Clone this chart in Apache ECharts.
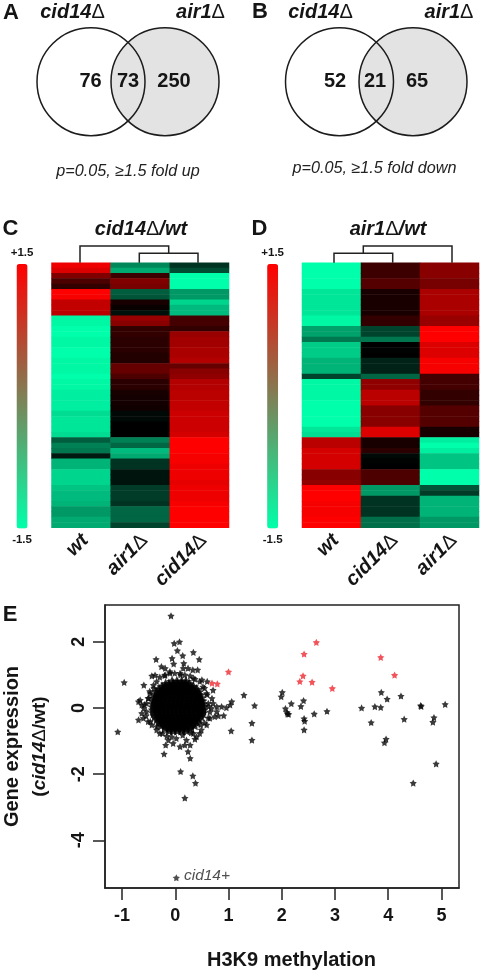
<!DOCTYPE html>
<html><head><meta charset="utf-8">
<script src="https://cdn.jsdelivr.net/npm/echarts@6/dist/echarts.min.js"></script>
<style>html,body{margin:0;padding:0;background:#fff}#c{width:481px;height:970px}</style>
</head><body><div id="c"></div>
<script>
// ---------- data ----------
const vennUp = [76, 73, 250];
const vennDown = [52, 21, 65];
const captionUp = 'p=0.05, ≥1.5 fold up';
const captionDown = 'p=0.05, ≥1.5 fold down';

const rowIds = ['01','02','03','04','05','06','07','08','09','10','11','12','13','14','15','16','17','18','19','20','21','22','23','24','25','26','27','28','29','30','31','32','33','34','35','36','37','38','39','40','41','42','43','44','45','46','47','48','49','50'];
const colsC = ['wt', 'air1', 'cid14'];
const colsD = ['wt', 'cid14', 'air1'];

const cWt = [1.4,1.3,.75,.45,.3,1.5,1.45,1.15,1.15,1.1,-1.45,-1.45,-1.5,-1.5,-1.45,-1.45,-1.5,-1.5,-1.45,-1.45,-1.45,-1.5,-1.45,-1.45,-1.4,-1.4,-1.4,-1.4,-1.3,-1.35,-1.35,-1.35,-1.3,-.55,-.75,-.7,-.15,-1.05,-1.05,-1.25,-1.25,-1.25,-1.15,-1.1,-1.1,-1.05,-.9,-.9,-1,-1];
const cAir = [-.8,-1,.35,.75,.7,-.55,-.5,.15,.05,-.1,.9,.8,.3,.3,.25,.25,.25,.2,.2,.6,.6,.45,.25,.25,.15,.12,.12,.1,-.05,-.05,0,0,0,-.75,-.6,-1.1,-1,-.3,-.3,-.12,-.12,-.12,-.35,-.35,-.35,-.3,-.6,-.6,-.6,-.4];
const cCid = [-.3,-.45,-1.5,-1.5,-1.5,-.9,-.9,-1.25,-1.1,-1.1,.4,.4,.3,.9,.95,.95,1,1,1.05,.6,.8,.85,1.05,1.05,1.1,1.1,1.15,1.15,1.2,1.2,1.2,1.2,1.25,1.5,1.5,1.5,1.45,1.45,1.4,1.4,1.4,1.35,1.4,1.4,1.4,1.45,1.5,1.5,1.5,1.5];

const dWt = [-1.5,-1.5,-1.5,-1.5,-1.5,-1.35,-1.35,-1.35,-1.35,-1.35,-1.45,-1.45,-.95,-.95,-.7,-1.2,-1.2,-1.2,-1.05,-1.05,-1.05,-.4,-1.45,-1.45,-1.45,-1.45,-1.5,-1.5,-1.5,-1.5,-1.5,-1.35,-1.3,1.1,1.1,1.25,1.25,1.25,1.25,.8,.8,.85,1.5,1.5,1.5,1.45,1.45,1.45,1.5,1.5];
const dCid = [.35,.35,.35,.5,.5,.15,.15,.15,.15,.15,.3,.3,-.4,-.4,-.7,0,-.02,0,-.2,-.2,-.2,-.6,.85,.85,1.1,1.1,1.1,.8,.8,.8,.8,1.3,1.3,.15,.15,.25,-.05,-.02,0,.45,.45,.45,-.9,-.9,-.3,-.3,-.3,-.3,-.65,-.65];
const dAir = [.8,.8,.8,.7,.7,1,1,1,1,1,.9,.9,1.5,1.5,1.5,1.3,1.3,1.3,1.45,1.45,1.45,.4,.4,.4,.3,.3,.3,.5,.5,.5,.5,.15,.15,-1.4,-1.5,-1.4,-1.15,-1.15,-1.15,-1.5,-1.5,-1.5,-.5,-.35,-1.05,-1.05,-1.05,-1.05,-.9,-.9];

// dense cloud near the origin, read row by row: [y, x values]
const cloudRows = [
 [.8,[-.06,.03,.12,.2]],
 [.72,[-.18,-.12,-.04,.04,.12,.2,.26]],
 [.64,[-.25,-.19,-.11,-.03,.05,.13,.21,.29,.34]],
 [.56,[-.3,-.23,-.15,-.07,.01,.09,.17,.25,.33,.4]],
 [.48,[-.34,-.27,-.19,-.11,-.03,.05,.13,.21,.29,.37,.43]],
 [.39,[-.37,-.3,-.22,-.14,-.06,.02,.1,.18,.26,.34,.42,.46]],
 [.3,[-.39,-.32,-.24,-.16,-.08,0,.08,.16,.24,.32,.4,.48]],
 [.21,[-.4,-.33,-.25,-.17,-.09,-.01,.07,.15,.23,.31,.39,.47,.5]],
 [.12,[-.41,-.34,-.26,-.18,-.1,-.02,.06,.14,.22,.3,.38,.46,.51]],
 [.03,[-.41,-.34,-.26,-.18,-.1,-.02,.06,.14,.22,.3,.38,.46,.52]],
 [-.06,[-.41,-.34,-.26,-.18,-.1,-.02,.06,.14,.22,.3,.38,.46,.52]],
 [-.15,[-.4,-.33,-.25,-.17,-.09,-.01,.07,.15,.23,.31,.39,.47,.51]],
 [-.24,[-.38,-.31,-.23,-.15,-.07,.01,.09,.17,.25,.33,.41,.48]],
 [-.33,[-.34,-.27,-.19,-.11,-.03,.05,.13,.21,.29,.37,.44]],
 [-.42,[-.3,-.23,-.15,-.07,.01,.09,.17,.25,.33,.4]],
 [-.51,[-.26,-.19,-.11,-.03,.05,.13,.21,.29,.36]],
 [-.6,[-.19,-.12,-.04,.04,.12,.2,.29]],
 [-.67,[-.11,-.04,.04,.12,.21]]
];
const cloudEdge = [[-.29,.93],[-.19,1],[-.1,1.05],[-.01,1.05],[.09,1.05],[.18,1],[.28,.97],[.37,.87],[.46,.8],[-.35,.8],[-.4,.59],[-.47,.44],[-.51,.29],[-.54,.14],[-.59,-.01],[-.63,.09],[-.55,-.24],[-.51,-.41],[-.44,-.51],[-.35,-.66],[-.29,-.77],[-.16,-.85],[.02,-.92],[.21,-.97],[.34,-.77],[.49,-.66],[.59,-.51],[.65,-.31],[.62,.14],[.68,-.01],[.59,.44],[.52,.64],[.78,.04],[.81,-.24],[.71,.54],[-.04,-1.07]];
const scatterBlack = [[-.08,2.78],[-.02,1.95],[.08,2],[.04,1.73],[.14,1.58],[.34,1.68],[.45,1.47],[-.36,1.47],[-.06,1.5],[-.03,1.33],[.16,1.35],[-.26,1.25],[-.19,1.2],[-.1,1.1],[.15,1.2],[.24,1.2],[.33,1.15],[.42,1.15],[-.44,.97],[-.38,.99],[-.96,.77],[-.59,.69],[-.41,.69],[.5,.85],[.6,.8],[.34,.9],[-.2,.98],[.1,1],[.69,.29],[.71,.14],[1.06,.19],[1.03,.09],[.96,.01],[.87,.04],[.78,-.11],[.74,-.26],[.91,-.23],[.62,.05],[.65,-.12],[.6,.4],[.55,.6],[.62,-.3],[1.29,.39],[1.49,.07],[1.44,-.46],[1.44,-.97],[1.05,-.69],[-1.08,-.72],[-.69,.19],[-.66,.24],[-.63,-.16],[-.69,-.36],[-.6,-.31],[-.54,-.11],[-.47,-.41],[-.35,-.56],[-.58,.1],[-.5,.3],[-.48,.5],[-.24,-.77],[-.07,-.87],[-.13,-.97],[-.18,-1.12],[.14,-.82],[.46,-.77],[.4,-.87],[.37,-.94],[.3,-.75],[.48,-.5],[.55,-.45],[-.21,-1.39],[.09,-1.17],[.18,-1.12],[.28,-1.12],[.24,-1.32],[.28,-1.52],[.1,-1.92],[.33,-2.05],[.38,-2.27],[.18,-2.72],[2.01,.47],[1.99,.34],[2.18,.13],[2.41,.22],[2.36,.05],[2.07,-.02],[2.1,-.13],[2.13,-.19],[2.11,-.18],[2.42,-.32],[2.43,-.4],[2.42,-.66],[2.61,-.18],[2.85,-.1],[3.5,0],[3.68,-.44],[3.75,.04],[3.86,.02],[3.87,.47],[3.98,.27],[4.24,.36],[4.3,-.34],[3.96,-.94],[3.93,-1.05],[4.61,.07],[4.62,.05],[5.07,.11],[4.86,-.29],[4.84,-.43],[4.9,-1.69],[4.47,-2.27]];
const scatterRed = [[.69,.75],[.79,.73],[1,1.09],[2.65,1.98],[2.42,1.63],[2.4,.97],[2.34,.8],[2.57,.78],[2.95,.59],[3.86,1.53],[4.12,.99]];
const cid14Point = [[.02,-5.13]];
const xTicks = [-1,0,1,2,3,4,5];
const yTicks = [-4,-2,0,2];

// ---------- helpers ----------
const FONT = '"Liberation Sans", Arial, sans-serif';
const INK = '#151515';
const STAR = 'path://M50 0 L65 29 L98 35 L75 58 L79 91 L50 76 L21 91 L25 58 L2 35 L35 29 Z';
const cell = (cols) => cols.flatMap((col, i) => col.map((v, j) => [i, j, v]));
const cloud = cloudRows.flatMap(([y, xs]) => xs.map(x => [x, y]));

const richStyles = (fs) => ({
  i: {fontFamily: FONT, fontSize: fs, fontWeight: 'bold', fontStyle: 'italic', fill: INK, color: INK},
  d: {fontFamily: FONT, fontSize: fs, fontWeight: 'normal', fill: INK, color: INK},
  b: {fontFamily: FONT, fontSize: fs, fontWeight: 'bold', fontStyle: 'italic', fill: INK, color: INK}
});
function gText(text, x, y, o) {
  return {type: 'text', z: 20, style: Object.assign({text, x, y, align: 'center', verticalAlign: 'middle', fill: INK, fontFamily: FONT}, o || {})};
}
function rich(text, x, y, fs, align) {
  return {type: 'text', z: 20, style: {text, x, y, align: align || 'center', verticalAlign: 'middle', rich: richStyles(fs)}};
}
const bold = (fs) => ({fontWeight: 'bold', fontSize: fs});
const circleStyle = (fill) => ({fill, stroke: '#1c1c1c', lineWidth: 1.5});
function circle(cx, cy, fill) {
  return {type: 'circle', z: 10, shape: {cx, cy, r: 54}, style: circleStyle(fill)};
}
function dendro(points) {
  return {type: 'polyline', z: 10, shape: {points}, style: {stroke: '#222', lineWidth: 1.5, fill: 'none'}};
}

const graphics = [
  circle(165, 81.7, '#e3e3e3'), circle(91, 81.7, 'none'),
  gText(String(vennUp[0]), 90.5, 81.7, bold(20)), gText(String(vennUp[1]), 128, 81.7, bold(20)), gText(String(vennUp[2]), 174, 81.7, bold(20)),
  circle(413, 81.7, '#e3e3e3'), circle(339.5, 81.7, 'none'),
  gText(String(vennDown[0]), 335, 81.7, bold(20)), gText(String(vennDown[1]), 375, 81.7, bold(20)), gText(String(vennDown[2]), 417, 81.7, bold(20)),
  rich('{i|cid14}{d|Δ}', 72.5, 12, 20), rich('{i|air1}{d|Δ}', 200.5, 12, 20),
  rich('{i|cid14}{d|Δ}', 320.5, 12, 20), rich('{i|air1}{d|Δ}', 449, 12, 20),
  gText(captionUp, 128, 171, {fontStyle: 'italic', fontSize: 16.2, fill: '#222'}),
  gText(captionDown, 374.5, 168, {fontStyle: 'italic', fontSize: 16.2, fill: '#222'}),
  gText('A', 11, 13, bold(22)), gText('B', 260, 12, bold(22)),
  gText('C', 10.5, 228.5, bold(22)), gText('D', 259.5, 228.5, bold(22)), gText('E', 10, 615, bold(22)),
  rich('{i|cid14}{d|Δ}{b|/wt}', 141, 229, 20), rich('{i|air1}{d|Δ}{b|/wt}', 388, 229, 20),
  dendro([[80, 262.7], [80, 246], [168.7, 246], [168.7, 253.3]]),
  dendro([[139.3, 262.7], [139.3, 253.3], [198, 253.3], [198, 262.7]]),
  dendro([[334, 262.7], [334, 253.3], [392.7, 253.3], [392.7, 262.7]]),
  dendro([[363.3, 253.3], [363.3, 246], [452, 246], [452, 262.7]])
];

const catAxisX = (grid, cols) => ({
  type: 'category', gridIndex: grid, data: cols, position: 'bottom',
  axisLine: {show: false}, axisTick: {show: false}, splitLine: {show: false},
  axisLabel: {
    interval: 0, rotate: 45, margin: 14, color: INK, hideOverlap: false, padding: [0, -6, 0, 0],
    formatter: (v) => v === 'wt' ? '{i|wt}' : '{i|' + v + '}{d|Δ}',
    rich: {
      i: {fontFamily: FONT, fontSize: 20, fontWeight: 'bold', fontStyle: 'italic', color: INK},
      d: {fontFamily: FONT, fontSize: 20, fontWeight: 'normal', color: INK}
    }
  }
});
const catAxisY = (grid) => ({
  type: 'category', gridIndex: grid, data: rowIds, inverse: true,
  axisLine: {show: false}, axisTick: {show: false}, axisLabel: {show: false}, splitLine: {show: false}
});
const heat = (i, cols) => ({
  type: 'heatmap', xAxisIndex: i, yAxisIndex: i, data: cell(cols), progressive: 0, animation: false,
  itemStyle: {borderWidth: 0}, emphasis: {disabled: true}
});
const legendMap = (left, series) => ({
  type: 'continuous', min: -1.5, max: 1.5, show: true, seriesIndex: series, calculable: false, realtime: false,
  left, top: 263 - 16, itemWidth: 11, itemHeight: 264.5, padding: 0, textGap: 5,
  text: ['+1.5', '-1.5'], textStyle: {fontFamily: FONT, fontWeight: 'bold', fontSize: 11.5, color: INK},
  inRange: {color: ['#00ffaa', '#ff0000']}, hoverLink: false
});
const scatter = (data, color, extra) => Object.assign({
  type: 'scatter', xAxisIndex: 2, yAxisIndex: 2, data, symbol: STAR, symbolSize: 7.2,
  itemStyle: {color}, animation: false, emphasis: {disabled: true}
}, extra || {});
const tickLabel = {fontFamily: FONT, fontWeight: 'bold', fontSize: 18, color: INK};

const option = {
  backgroundColor: '#fff', animation: false,
  grid: [
    {left: 51.5, top: 262.7, width: 177.5, height: 265, outerBoundsMode: 'none'},
    {left: 302, top: 262.7, width: 177, height: 265, outerBoundsMode: 'none'},
    {left: 105, top: 605, width: 354, height: 283, show: true, borderColor: '#222', borderWidth: 1.5, backgroundColor: 'transparent', outerBoundsMode: 'none'}
  ],
  xAxis: [
    catAxisX(0, colsC), catAxisX(1, colsD),
    {type: 'value', gridIndex: 2, min: -1.32, max: 5.33, position: 'bottom', splitLine: {show: false},
     axisLine: {show: true, onZero: false, lineStyle: {color: '#222', width: 1.5}},
     axisTick: {show: true, length: 12, lineStyle: {color: '#222', width: 1.5}, customValues: xTicks},
     axisLabel: Object.assign({margin: 19, customValues: xTicks}, tickLabel),
     name: 'H3K9 methylation', nameLocation: 'middle', nameGap: 62,
     nameTextStyle: {fontFamily: FONT, fontWeight: 'bold', fontSize: 20, color: INK, padding: [0, 0, 0, 19]}}
  ],
  yAxis: [
    catAxisY(0), catAxisY(1),
    {type: 'value', gridIndex: 2, min: -5.44, max: 3.11, position: 'left', splitLine: {show: false},
     axisLine: {show: true, onZero: false, lineStyle: {color: '#222', width: 1.5}},
     axisTick: {show: true, length: 12, lineStyle: {color: '#222', width: 1.5}, customValues: yTicks},
     axisLabel: Object.assign({margin: 26, rotate: 90, customValues: yTicks, align: 'center', verticalAlign: 'middle'}, tickLabel),
     name: '{g|Gene expression}\n{s|(}{i|cid14}{d|Δ}{s|/wt)}', nameLocation: 'middle', nameRotate: 90, nameGap: 52,
     nameTextStyle: {
       rich: {
         g: {fontFamily: FONT, fontWeight: 'bold', fontSize: 20, color: INK, lineHeight: 27, align: 'center'},
         s: {fontFamily: FONT, fontWeight: 'bold', fontSize: 19, color: INK, lineHeight: 27},
         i: {fontFamily: FONT, fontWeight: 'bold', fontStyle: 'italic', fontSize: 19, color: INK, lineHeight: 27},
         d: {fontFamily: FONT, fontWeight: 'normal', fontSize: 19, color: INK, lineHeight: 27}
       }
     }}
  ],
  visualMap: [
    {type: 'continuous', min: -1.5, max: 1.5, show: false, seriesIndex: [0, 1], inRange: {color: ['#00ffaa', '#000000', '#ff0000']}},
    legendMap(10.7, 5), legendMap(261.3, 6)
  ],
  series: [
    heat(0, [cWt, cAir, cCid]),
    heat(1, [dWt, dCid, dAir]),
    scatter(cloudEdge.concat(scatterBlack), '#0a0a0a'),
    scatter(scatterRed, '#ee2a32', {z: 3}),
    scatter(cid14Point, '#222', {
      label: {show: true, position: 'right', distance: 4, formatter: 'cid14+', fontFamily: FONT, fontStyle: 'italic', fontSize: 15.5, color: '#222', offset: [0, -2]}
    }),
    {type: 'scatter', xAxisIndex: 2, yAxisIndex: 2, data: []},
    {type: 'scatter', xAxisIndex: 2, yAxisIndex: 2, data: []},
    scatter(cloud, '#000', {symbolSize: 11})
  ],
  graphic: graphics
};
const chart = echarts.init(document.getElementById('c'), null, {renderer: 'canvas', width: 481, height: 970});
chart.setOption(option);
</script>
</body></html>
